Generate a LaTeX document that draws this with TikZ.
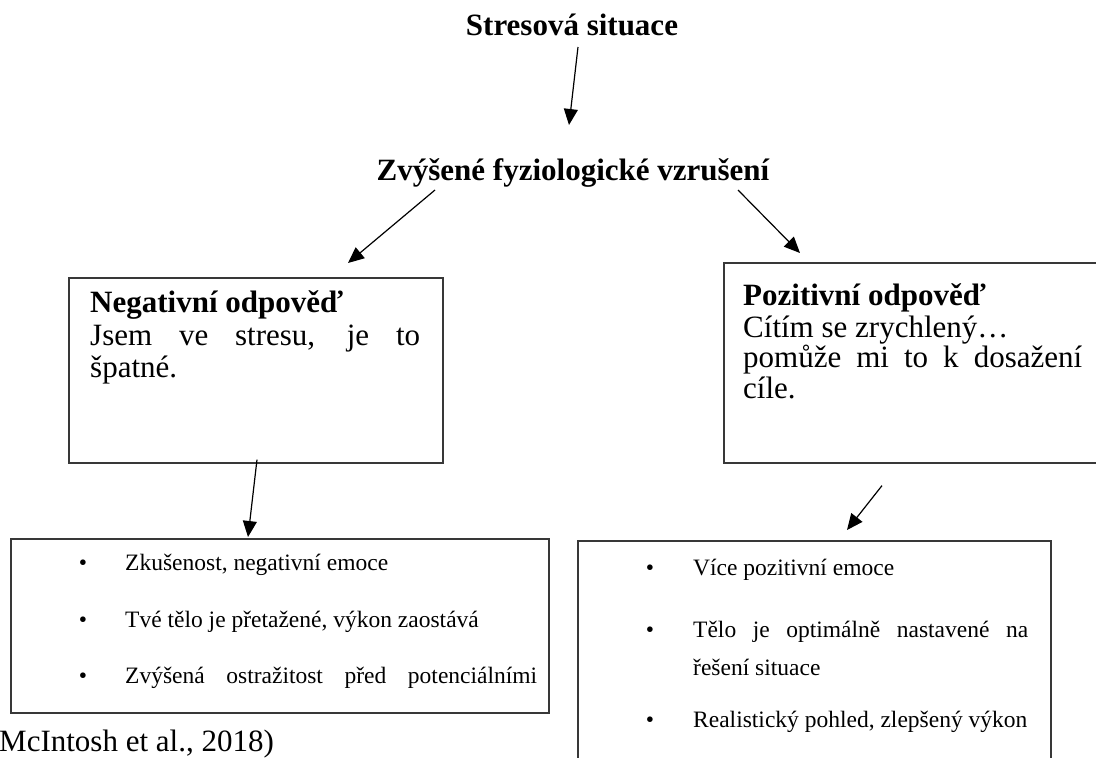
\documentclass[tikz,border=0pt]{standalone}
\usepackage{fontspec}
\setmainfont{Liberation Serif}
\usetikzlibrary{arrows.meta,calc}
\begin{document}
\begin{tikzpicture}[x=1pt,y=-1pt,
  box/.style={draw=black!78, line width=1.6pt, rectangle, inner sep=0pt, anchor=north west},
  big/.style={font=\fontsize{31}{32}\selectfont, inner sep=0pt, anchor=base west},
  bigb/.style={font=\fontsize{31}{32}\selectfont\bfseries, inner sep=0pt, anchor=base west},
  titlet/.style={font=\fontsize{31}{32}\selectfont\bfseries, inner sep=0pt, anchor=base},
  small/.style={font=\fontsize{23.5}{26}\selectfont, inner sep=0pt, anchor=base west},
  bul/.style={font=\fontsize{23.5}{26}\selectfont, inner sep=0pt, anchor=base},
  arr/.style={-{Triangle[length=16pt,width=14pt]}, line width=1.2pt, black}]
\useasboundingbox (0,0) rectangle (1096,758);
\clip (0,0) rectangle (1096,758);

% headings
\node[titlet] (stres) at (572,35) {Stresová situace};
\node[titlet] (zvys) at (573,180) {Zvýšené fyziologické vzrušení};

% upper boxes
\node[box, minimum width=374pt, minimum height=185pt] (neg) at (68,277) {};
\node[box, minimum width=400pt, minimum height=200pt] (pos) at (723,262) {};

\node[bigb] (n1) at (90,312) {Negativní odpověď};
\node[big] (n2) at (90,345) {\makebox[330pt][s]{Jsem ve stresu, je to}};
\node[big] (n3) at (90,377) {špatné.};

\node[bigb] (p1) at (743,305) {Pozitivní odpověď};
\node[big] (p2) at (743,337) {Cítím se zrychlený…};
\node[big] (p3) at (743,367) {\makebox[339pt][s]{pomůže mi to k dosažení}};
\node[big] (p4) at (743,398) {cíle.};

% lower boxes
\node[box, minimum width=538pt, minimum height=174pt] (negb) at (10,538) {};
\node[box, minimum width=473pt, minimum height=240pt] (posb) at (577,540) {};

\node[bul] (lb1) at (83,570) {•};
\node[small] (lt1) at (125,570) {Zkušenost, negativní emoce};
\node[bul] (lb2) at (83,627) {•};
\node[small] (lt2) at (125,627) {Tvé tělo je přetažené, výkon zaostává};
\node[bul] (lb3) at (83,683) {•};
\node[small] (lt3) at (125,683) {\makebox[412pt][s]{Zvýšená ostražitost před potenciálními}};

\node[bul] (rb1) at (650,575) {•};
\node[small] (rt1) at (693,575) {Více pozitivní emoce};
\node[bul] (rb2) at (650,637) {•};
\node[small] (rt2) at (693,637) {\makebox[335pt][s]{Tělo je optimálně nastavené na}};
\node[small] (rt2b) at (693,675) {řešení situace};
\node[bul] (rb3) at (650,727) {•};
\node[small] (rt3) at (693,727) {Realistický pohled, zlepšený výkon};

\node[big] (cite) at (-1,751) {McIntosh et al., 2018)};

% connectors
\draw[arr] ($(stres.base)+(6,12)$) -- ($(zvys.base)+(-4,-55)$);
\draw[arr] ($(zvys.base)+(-138,10)$) -- ($(neg.north west)+(280,-14)$);
\draw[arr] ($(zvys.base)+(165,10)$) -- ($(pos.north west)+(77,-9)$);
\draw[arr] ($(neg.south west)+(189,-4)$) -- ($(negb.north west)+(238,-1)$);
\draw[arr] ($(pos.south west)+(159,22)$) -- ($(posb.north west)+(270,-10)$);
\end{tikzpicture}
\end{document}
